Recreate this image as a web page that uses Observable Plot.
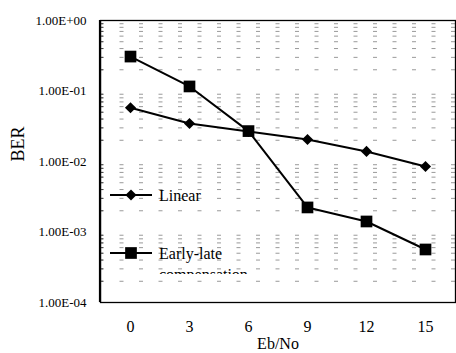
<!DOCTYPE html>
<html>
<head>
<meta charset="utf-8">
<script src="https://cdn.jsdelivr.net/npm/d3@7"></script>
<script src="https://cdn.jsdelivr.net/npm/@observablehq/plot@0.6"></script>
<style>
  html, body { margin: 0; padding: 0; background: #fff; }
  #chart { width: 456px; height: 353px; }
  #chart svg, #chart svg text { font-family: "Liberation Serif", "Times New Roman", Tinos, "DejaVu Serif", serif !important; }
</style>
</head>
<body>
<div id="chart"></div>
<script>
const categories = ["0", "3", "6", "9", "12", "15"];
const linear = [0.058, 0.0346, 0.0267, 0.0205, 0.0139, 0.0085];
const earlyLate = [0.308, 0.116, 0.027, 0.00223, 0.00141, 0.000565];
const seriesNames = ["Linear", "Early-late", "compensation"];
const yTicks = [1, 0.1, 0.01, 0.001, 0.0001];
const yTickLabels = ["1.00E+00", "1.00E-01", "1.00E-02", "1.00E-03", "1.00E-04"];
const xLabel = "Eb/No";
const yLabel = "BER";

const linData = categories.map((c, i) => ({x: c, y: linear[i]}));
const elData = categories.map((c, i) => ({x: c, y: earlyLate[i]}));

// minor log gridlines (2..9 within each decade)
const minor = [];
for (let e = -4; e < 0; e++) for (let m = 2; m <= 9; m++) minor.push(m * Math.pow(10, e));

const font = "'Liberation Serif', 'Times New Roman', Tinos, 'DejaVu Serif', serif";

const chart = Plot.plot({
  width: 456,
  height: 353,
  marginLeft: 100,
  marginRight: 1,
  marginTop: 20,
  marginBottom: 51,
  style: {fontFamily: font, background: "white", color: "black"},
  x: {type: "point", domain: categories, padding: 0.5},
  y: {type: "log", domain: [1e-4, 1]},
  marks: [
    Plot.gridY(minor, {stroke: "#999", strokeOpacity: 1, strokeWidth: 1, strokeDasharray: "4,15.5"}),
    Plot.frame({stroke: "#000", strokeWidth: 1.3}),
    Plot.axisY(minor, {tickSize: -3, text: null, stroke: "#444", label: null}),
    Plot.axisY({ticks: yTicks, tickFormat: d => yTickLabels[yTicks.indexOf(d)], tickSize: 0, tickPadding: 14, fontSize: 13, label: null}),
    Plot.axisX({tickSize: 0, tickPadding: 18, fontSize: 16, label: null}),
    Plot.text([yLabel], {frameAnchor: "left", dx: -82, rotate: -90, fontSize: 18}),
    Plot.text([xLabel], {frameAnchor: "bottom", dy: 46, fontSize: 16}),
    Plot.line(linData, {x: "x", y: "y", stroke: "black", strokeWidth: 2}),
    Plot.line(elData, {x: "x", y: "y", stroke: "black", strokeWidth: 2}),
    Plot.dot(linData, {x: "x", y: "y", symbol: "diamond2", r: 5, fill: "black", stroke: "none"}),
    Plot.dot(elData, {x: "x", y: "y", symbol: "square", r: 6.6, fill: "black", stroke: "none"})
  ]
});

document.getElementById("chart").appendChild(chart);

const svg = d3.select(chart);
// thicker left edge, like the reference
svg.append("line").attr("x1", 100).attr("x2", 100).attr("y1", 20).attr("y2", 302)
  .attr("stroke", "black").attr("stroke-width", 2.2);
// Legend (inside plot area, lower left)
const defs = svg.append("defs");
defs.append("clipPath").attr("id", "legclip")
  .append("rect").attr("x", 100).attr("y", 20).attr("width", 152).attr("height", 254);
const leg = svg.append("g").attr("font-family", font).attr("fill", "black").attr("text-anchor", "start");
const items = [
  {y: 195, sym: d3.symbolDiamond2, r: 5, label: seriesNames[0]},
  {y: 253, sym: d3.symbolSquare, r: 6.6, label: seriesNames[1]}
];
items.forEach(it => {
  leg.append("line").attr("x1", 110).attr("x2", 152).attr("y1", it.y).attr("y2", it.y)
    .attr("stroke", "black").attr("stroke-width", 2);
  leg.append("path").attr("d", d3.symbol(it.sym, Math.PI * it.r * it.r)())
    .attr("transform", `translate(131,${it.y})`).attr("fill", "black");
  leg.append("text").attr("x", 159).attr("y", it.y).attr("dy", "0.35em")
    .attr("text-anchor", "start").attr("font-size", 16).text(it.label);
});
leg.append("text").attr("x", 159).attr("y", 280).attr("font-size", 16)
  .attr("text-anchor", "start").attr("clip-path", "url(#legclip)").text(seriesNames[2]);
</script>
</body>
</html>
